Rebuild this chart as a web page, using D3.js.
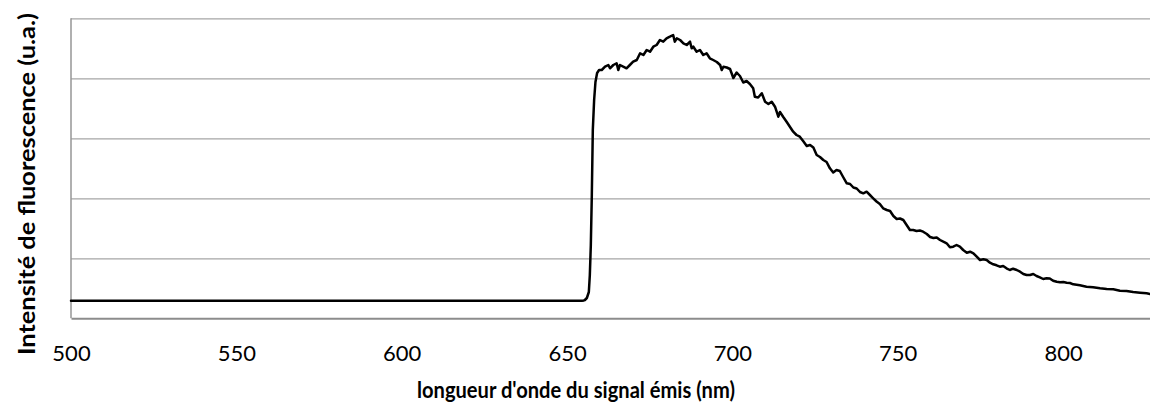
<!DOCTYPE html>
<html>
<head>
<meta charset="utf-8">
<script src="https://cdn.jsdelivr.net/npm/d3@7"></script>
<style>
  body { margin: 0; background: #fff; }
  svg { display: block; }
</style>
</head>
<body>
<svg id="chart" width="1150" height="405"></svg>
<script>
// Emission spectrum: wavelength (nm) and fluorescence intensity (arbitrary units)
const wavelengths = [
  500, 520, 540, 560, 580, 600, 620, 640, 650, 654.5, 655.1, 655.4, 656.0, 656.6, 656.9, 657.2, 657.5, 657.8, 658.2, 658.6, 659.1, 659.7,
  660.5, 661.5, 662.5, 663.0, 664.0, 665.0, 665.5, 666.0, 667.0, 668.0,
  669.0, 670.0, 671.1, 672.1, 673.1, 674.1, 675.1, 676.1, 677.1, 678.1,
  679.1, 680.1, 681.1, 682.1, 682.6, 683.2, 684.2, 685.2, 686.2, 687.2,
  687.7, 688.2, 689.2, 690.2, 691.2, 692.2, 693.2, 694.2, 695.3, 696.3,
  696.8, 697.3, 698.3, 699.3, 700.3, 701.3, 702.3, 703.3, 704.3, 705.3,
  706.3, 706.8, 707.8, 708.9, 709.9, 710.9, 711.9, 712.9, 713.9, 714.4,
  715.4, 716.4, 717.4, 718.4, 719.4, 720.4, 721.4, 722.5, 723.5, 724.5,
  725.5, 726.5, 727.5, 728.5, 729.5, 730.5, 731.5, 732.5, 733.5, 734.6,
  735.6, 736.6, 737.6, 738.6, 739.6, 740.6, 741.6, 742.6, 743.6, 744.6,
  745.6, 746.7, 747.7, 748.7, 749.7, 750.7, 751.7, 752.7, 753.7, 754.7,
  755.7, 756.7, 757.7, 758.8, 759.8, 760.8, 761.8, 762.8, 763.8, 764.8,
  765.8, 766.8, 767.8, 768.8, 769.8, 770.9, 771.9, 772.9, 773.9, 774.9,
  775.9, 776.9, 777.9, 778.9, 779.9, 780.9, 781.9, 782.9, 783.9, 784.9,
  786.0, 787.0, 788.0, 789.0, 790.0, 791.0, 792.0, 793.0, 794.0, 795.0,
  796.0, 797.0, 798.1, 799.1, 800.1, 801.1, 802.1, 803.1, 805.1, 807.1,
  809.1, 811.2, 813.2, 815.2, 817.2, 819.2, 821.2, 823.3, 825.3, 826.3
];

const intensities = [
  176, 176, 176, 176, 176, 176, 176, 176, 176, 176, 179, 183, 203, 263, 433, 733, 1233, 1883, 2183, 2363, 2453, 2483,
  2483, 2516, 2533, 2500, 2533, 2550, 2483, 2533, 2516, 2500,
  2533, 2566, 2583, 2650, 2633, 2683, 2666, 2716, 2733, 2783,
  2766, 2800, 2816, 2833, 2766, 2800, 2783, 2750, 2733, 2766,
  2700, 2716, 2666, 2683, 2633, 2650, 2600, 2583, 2563, 2533,
  2483, 2516, 2508, 2493, 2403, 2458, 2423, 2358, 2373, 2343,
  2300, 2216, 2208, 2250, 2166, 2143, 2166, 2116, 2016, 2063,
  2013, 1966, 1916, 1866, 1833, 1816, 1773, 1723, 1733, 1708,
  1633, 1613, 1583, 1563, 1500, 1458, 1483, 1473, 1413, 1350,
  1343, 1308, 1298, 1263, 1250, 1266, 1233, 1200, 1168, 1143,
  1100, 1083, 1073, 1023, 993, 998, 983, 933, 883, 883,
  873, 878, 866, 843, 813, 803, 808, 783, 766, 750,
  710, 716, 733, 716, 683, 656, 666, 650, 616, 583,
  590, 583, 556, 540, 530, 516, 523, 500, 483, 496,
  483, 466, 443, 433, 433, 443, 423, 410, 393, 400,
  398, 376, 366, 360, 363, 356, 353, 340, 330, 316,
  310, 300, 293, 290, 276, 273, 263, 256, 250, 243
];

const xTickValues = [500, 550, 600, 650, 700, 750, 800];
const yGridValues = [600, 1200, 1800, 2400, 3000];
const xDomain = [500, 826.3];
const yDomain = [0, 3000];

const xTitle = "longueur d'onde du signal émis (nm)";
const yTitle = "Intensité de fluorescence (u.a.)";

// Plot area
const plot = { left: 71, right: 1150, top: 18.3, bottom: 318.3 };
const font = "Lato, 'Open Sans', sans-serif";

const svg = d3.select("#chart");

const x = d3.scaleLinear().domain(xDomain).range([plot.left, plot.right]);
const y = d3.scaleLinear().domain(yDomain).range([plot.bottom, plot.top]);

// Horizontal gridlines
svg.append("g")
  .attr("transform", `translate(${plot.left},0)`)
  .call(d3.axisLeft(y).tickValues(yGridValues).tickSize(-(plot.right - plot.left)).tickFormat(""))
  .call(g => g.select(".domain").remove())
  .call(g => g.selectAll(".tick line").attr("stroke", "#a6a6a6").attr("stroke-width", 1.2));

// Left axis line
svg.append("line")
  .attr("x1", plot.left).attr("x2", plot.left)
  .attr("y1", plot.top).attr("y2", plot.bottom)
  .attr("stroke", "#969696").attr("stroke-width", 1.5);

// Bottom axis with wavelength labels
const xAxis = svg.append("g")
  .attr("transform", `translate(0,${plot.bottom})`)
  .call(d3.axisBottom(x).tickValues(xTickValues).tickSize(0).tickSizeOuter(0).tickPadding(0).tickFormat(d3.format("d")));
xAxis.select(".domain").attr("stroke", "#8c8c8c").attr("stroke-width", 2);
xAxis.selectAll(".tick text")
  .attr("y", 43)
  .attr("dy", 0)
  .attr("fill", "#000")
  .style("font-family", font)
  .style("font-size", "22px");

// Spectrum line
const line = d3.line()
  .x((d, i) => x(wavelengths[i]))
  .y(d => y(d))
  .curve(d3.curveLinear);

svg.append("path")
  .datum(intensities)
  .attr("fill", "none")
  .attr("stroke", "#000")
  .attr("stroke-width", 2.5)
  .attr("stroke-linejoin", "round")
  .attr("stroke-linecap", "round")
  .attr("d", line);

// Axis titles
svg.append("text")
  .attr("x", 576).attr("y", 398)
  .attr("text-anchor", "middle")
  .attr("textLength", 318)
  .attr("lengthAdjust", "spacingAndGlyphs")
  .style("font-family", font)
  .style("font-weight", "bold")
  .style("font-size", "22px")
  .attr("fill", "#000")
  .text(xTitle);

svg.append("text")
  .attr("transform", "translate(35,184) rotate(-90)")
  .attr("text-anchor", "middle")
  .attr("textLength", 342)
  .attr("lengthAdjust", "spacingAndGlyphs")
  .style("font-family", font)
  .style("font-weight", "bold")
  .style("font-size", "22px")
  .attr("fill", "#000")
  .text(yTitle);
</script>
</body>
</html>
